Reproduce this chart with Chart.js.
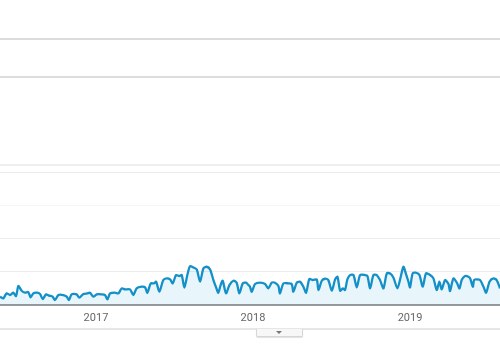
<!DOCTYPE html>
<html>
<head>
<meta charset="utf-8">
<script src="https://cdn.jsdelivr.net/npm/chart.js@4/dist/chart.umd.min.js"></script>
<style>
  html, body { margin: 0; padding: 0; background: #fff; }
  #wrap { position: relative; width: 500px; height: 350px; overflow: hidden; }
  #c { position: absolute; left: 0; top: 0; }
  .hl { position: absolute; left: 0; width: 500px; }
  #tab { position: absolute; left: 256px; top: 329px; width: 45px; height: 7px;
         border: 1px solid #d6d6d6; border-top: none; border-radius: 0 0 2px 2px;
         background: #f7f7f7; box-shadow: 0 1px 1px rgba(0,0,0,0.12); }
  #arrow { position: absolute; left: 276px; top: 331px; width: 0; height: 0;
           border-left: 3px solid transparent; border-right: 3px solid transparent;
           border-top: 3px solid #777; }
</style>
</head>
<body>
<div id="wrap">
  <div class="hl" style="top:38px;height:2px;background:#dcdcdc;"></div>
  <div class="hl" style="top:76px;height:2px;background:#dcdcdc;"></div>
  <div class="hl" style="top:164px;height:2px;background:#efefef;"></div>
  <div class="hl" style="top:328px;height:2px;background:#e6e6e6;"></div>
  <canvas id="c" width="500" height="350"></canvas>
  <div id="tab"></div>
  <div id="arrow"></div>
</div>
<script>
// Time in decimal years
const years = [
  2016.389, 2016.410, 2016.431, 2016.453, 2016.474, 2016.491, 2016.506, 2016.527, 2016.548, 2016.569,
  2016.584, 2016.601, 2016.623, 2016.644, 2016.661, 2016.682, 2016.703, 2016.724, 2016.739, 2016.761,
  2016.792, 2016.814, 2016.828, 2016.845, 2016.877, 2016.894, 2016.920, 2016.945, 2016.962, 2016.983,
  2017.005, 2017.036, 2017.058, 2017.073, 2017.090, 2017.121, 2017.143, 2017.164, 2017.185, 2017.217,
  2017.238, 2017.259, 2017.291, 2017.313, 2017.327, 2017.349, 2017.370, 2017.383, 2017.404, 2017.429,
  2017.451, 2017.472, 2017.489, 2017.510, 2017.531, 2017.546, 2017.563, 2017.582, 2017.599, 2017.620,
  2017.642, 2017.663, 2017.684, 2017.705, 2017.727, 2017.748, 2017.765, 2017.779, 2017.794, 2017.807,
  2017.828, 2017.850, 2017.875, 2017.896, 2017.913, 2017.935, 2017.956, 2017.971,
  2017.981, 2017.992, 2018.013, 2018.045, 2018.077, 2018.098, 2018.119, 2018.140, 2018.162, 2018.172,
  2018.194, 2018.225, 2018.247, 2018.257, 2018.279, 2018.300, 2018.321, 2018.338, 2018.359, 2018.381,
  2018.406, 2018.417, 2018.438, 2018.459, 2018.480, 2018.502, 2018.523, 2018.538, 2018.555, 2018.572,
  2018.586, 2018.601, 2018.618, 2018.640, 2018.661, 2018.682, 2018.714, 2018.729, 2018.746, 2018.767,
  2018.788, 2018.809, 2018.831, 2018.852, 2018.873, 2018.894, 2018.920, 2018.941, 2018.958, 2018.973,
  2018.990, 2019.000, 2019.017, 2019.039, 2019.060, 2019.081, 2019.102, 2019.128, 2019.149, 2019.170,
  2019.187, 2019.202, 2019.223, 2019.245, 2019.255, 2019.276, 2019.298, 2019.315, 2019.329, 2019.351,
  2019.372, 2019.383, 2019.400, 2019.408, 2019.425, 2019.446, 2019.468, 2019.485, 2019.506, 2019.531,
  2019.552, 2019.573
];
const sessions = [
  25, 20, 35, 30, 37, 27, 57, 43, 37, 39,
  23, 35, 37, 33, 18, 32, 28, 25, 15, 30,
  30, 25, 15, 32, 32, 22, 33, 35, 37, 25,
  32, 32, 30, 17, 35, 37, 35, 50, 47, 47,
  30, 50, 55, 53, 37, 65, 65, 70, 40, 75,
  80, 77, 65, 90, 87, 90, 52, 90, 117, 113,
  107, 70, 110, 115, 107, 75, 53, 37, 60, 73,
  35, 60, 73, 67, 35, 65, 67, 60,
  55, 40, 63, 67, 63, 50, 67, 67, 57, 35,
  65, 65, 63, 40, 67, 70, 55, 37, 78, 75,
  77, 45, 73, 79, 75, 43, 77, 85, 43, 50,
  45, 77, 90, 90, 53, 90, 90, 87, 50, 90,
  90, 75, 50, 95, 95, 83, 50, 85, 115, 95,
  70, 53, 95, 97, 90, 55, 95, 90, 80, 45,
  70, 47, 75, 63, 42, 80, 67, 50, 75, 87,
  85, 80, 55, 75, 77, 75, 55, 37, 70, 80,
  75, 50
];
const yearTicks = [2017, 2018, 2019];
const xRange = [2016.389, 2019.573];
const yRange = [0, 400];

const points = years.map((x, i) => ({ x: x, y: sessions[i] }));

new Chart(document.getElementById('c'), {
  type: 'line',
  data: {
    datasets: [{
      data: points,
      borderColor: '#1490c9',
      backgroundColor: 'rgba(5,141,199,0.09)',
      borderWidth: 2.3,
      fill: 'origin',
      pointRadius: 0,
      tension: 0.25,
      borderJoinStyle: 'round'
    }]
  },
  options: {
    responsive: false,
    animation: false,
    events: [],
    plugins: { legend: { display: false }, tooltip: { enabled: false } },
    layout: { padding: { top: 172, left: 0, right: 0, bottom: 0 } },
    scales: {
      x: {
        type: 'linear',
        min: xRange[0],
        max: xRange[1],
        afterFit: s => { s.height = 45; },
        afterBuildTicks: s => { s.ticks = yearTicks.map(v => ({ value: v })); },
        ticks: {
          includeBounds: false,
          autoSkip: false,
          maxRotation: 0,
          padding: 7,
          color: '#666',
          font: { family: 'Roboto, Arial, sans-serif', size: 11 },
          callback: v => String(v)
        },
        grid: { display: false, drawTicks: false },
        border: { display: true, color: '#9a9a9a', width: 2 }
      },
      y: {
        min: yRange[0],
        max: yRange[1],
        afterFit: s => { s.width = 0; },
        ticks: { display: false, stepSize: 100 },
        grid: {
          drawTicks: false,
          color: c => (c.tick && c.tick.value === 300) ? '#f6f6f6' : '#ececec',
          lineWidth: 1
        },
        border: { display: false }
      }
    }
  }
});
</script>
</body>
</html>
